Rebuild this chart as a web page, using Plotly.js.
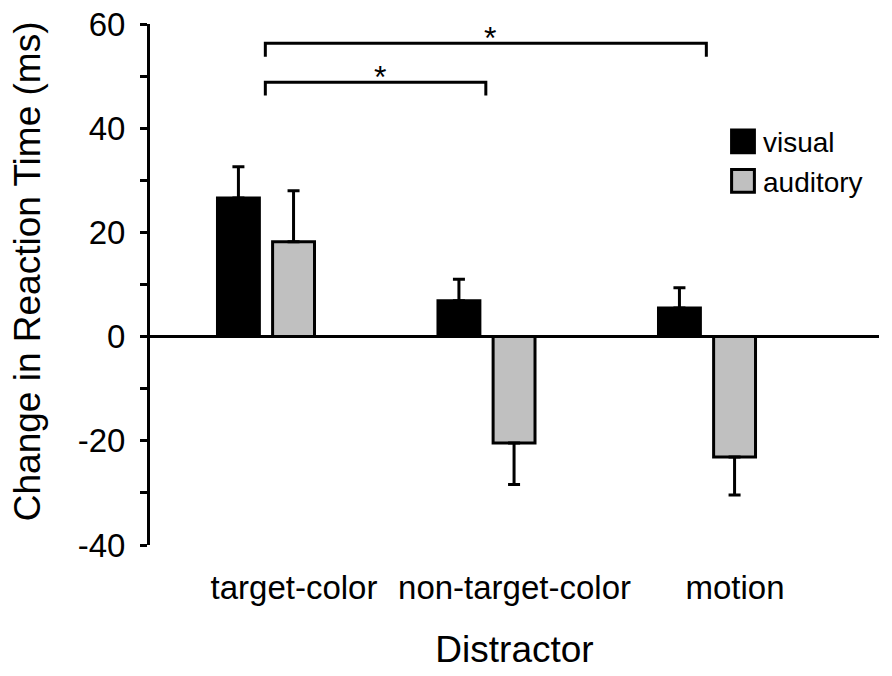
<!DOCTYPE html>
<html>
<head>
<meta charset="utf-8">
<script src="https://cdn.plot.ly/plotly-3.0.1.min.js"></script>
<style>
  html, body { margin: 0; padding: 0; background: #fff; }
  #plot { width: 892px; height: 676px; }
</style>
</head>
<body>
<div id="plot"></div>
<script>
// values (ms)
const categories = ['target-color', 'non-target-color', 'motion'];
const visualMean = [26.6, 6.9, 5.5];
const visualErr = [6.0, 4.1, 3.9];
const auditoryMean = [18.2, -20.4, -23.1];
const auditoryErrUp = [9.8, 0, 0];
const auditoryErrDown = [0, 8.0, 7.3];
const yTicks = [-40, -20, 0, 20, 40, 60];
const yTickText = ['-40', '-20', '0', '20', '40', '60'];

// significance brackets: pairs of category indices
const brackets = [
  { from: 0, to: 2, y: 56.3, drop: 2.6 },
  { from: 0, to: 1, y: 48.8, drop: 2.5 },
];

const FONT = 'Liberation Sans, Arial, sans-serif';
const errStyle = { type: 'data', symmetric: false, color: '#000', thickness: 3, width: 6 };

const data = [
  {
    type: 'bar',
    name: 'visual',
    x: categories,
    y: visualMean,
    offset: -0.347,
    width: 0.19,
    marker: { color: '#000000', line: { color: '#000', width: 3 } },
    error_y: Object.assign({ array: visualErr, arrayminus: visualErr.map(() => 0) }, errStyle),
  },
  {
    type: 'bar',
    name: 'auditory',
    x: categories,
    y: auditoryMean,
    offset: -0.097,
    width: 0.19,
    marker: { color: '#c0c0c0', line: { color: '#000', width: 3 } },
    error_y: Object.assign({ array: auditoryErrUp, arrayminus: auditoryErrDown }, errStyle),
  },
];

const shapes = [];
const annotations = [];
brackets.forEach(b => {
  const x0 = b.from - 0.13;
  const x1 = b.to - 0.13;
  shapes.push({
    type: 'path', xref: 'x', yref: 'y',
    path: `M${x0},${b.y - b.drop} L${x0},${b.y} L${x1},${b.y} L${x1},${b.y - b.drop}`,
    line: { color: '#000', width: 3 },
  });
  annotations.push({
    xref: 'x', yref: 'y', x: (x0 + x1) / 2 + 0.02, y: b.y,
    text: '*', showarrow: false, yanchor: 'bottom', yshift: -15,
    font: { family: FONT, size: 32, color: '#000' },
  });
});

annotations.push({
  xref: 'paper', yref: 'paper', x: -0.167, y: 0.526,
  xanchor: 'center', yanchor: 'middle', textangle: -90,
  text: 'Change in Reaction Time (ms)', showarrow: false,
  font: { family: FONT, size: 37, color: '#000' },
});

const layout = {
  width: 892,
  height: 676,
  margin: { l: 150, r: 13, t: 24, b: 131, pad: 0 },
  paper_bgcolor: '#fff',
  plot_bgcolor: '#fff',
  barmode: 'overlay',
  font: { family: FONT, size: 33, color: '#000' },
  showlegend: true,
  legend: {
    x: 0.786, y: 0.822, xanchor: 'left', yanchor: 'top',
    font: { family: FONT, size: 28, color: '#000' },
    bgcolor: 'rgba(0,0,0,0)',
  },
  xaxis: {
    type: 'category',
    range: [-0.653, 2.653],
    showline: false,
    showgrid: false,
    zeroline: false,
    ticks: '',
    ticklabelstandoff: 20,
    tickfont: { family: FONT, size: 33, color: '#000' },
    title: { text: 'Distractor', font: { family: FONT, size: 37, color: '#000' }, standoff: 31 },
    fixedrange: true,
  },
  yaxis: {
    range: [-40, 60],
    tickvals: yTicks,
    ticktext: yTickText,
    showline: true,
    linecolor: '#000',
    linewidth: 3,
    ticks: 'outside',
    ticklen: 7,
    tickwidth: 3,
    tickcolor: '#000',
    ticklabelstandoff: 8,
    minor: { dtick: 10, ticks: 'outside', ticklen: 7, tickwidth: 3, tickcolor: '#000', showgrid: false },
    showgrid: false,
    zeroline: true,
    zerolinecolor: '#000',
    zerolinewidth: 3,
    tickfont: { family: FONT, size: 33, color: '#000' },
    fixedrange: true,
  },
  shapes: shapes,
  annotations: annotations,
};

Plotly.newPlot('plot', data, layout, { staticPlot: true, displayModeBar: false }).then(gd => {
  // plotly's bar legend swatch is a fixed 12px square; the figure uses ~23px
  gd.querySelectorAll('.legend .legendpoints path').forEach(p => {
    const t = p.getAttribute('transform') || '';
    p.setAttribute('transform', t + ' scale(1.9)');
    p.style.strokeWidth = '1.6px';
  });
});
</script>
</body>
</html>
